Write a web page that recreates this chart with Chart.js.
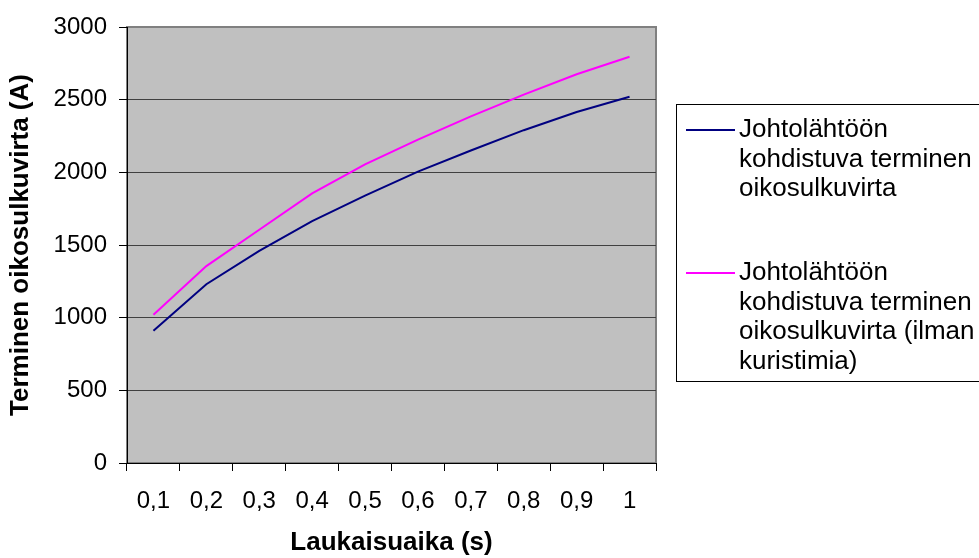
<!DOCTYPE html>
<html>
<head>
<meta charset="utf-8">
<script src="https://cdn.jsdelivr.net/npm/chart.js@4.4.1/dist/chart.umd.min.js"></script>
<style>
  html, body { margin: 0; padding: 0; background: #fff; }
  #wrap { width: 979px; height: 558px; position: relative; }
</style>
</head>
<body>
<div id="wrap"><canvas id="chart"></canvas></div>
<script>
// laukaisuaika (s) categories
const categories = ['0,1', '0,2', '0,3', '0,4', '0,5', '0,6', '0,7', '0,8', '0,9', '1'];
// terminen oikosulkuvirta (A)
const withReactor = [910, 1230, 1460, 1665, 1840, 2005, 2150, 2290, 2415, 2520];
const withoutReactor = [1020, 1355, 1605, 1855, 2055, 2225, 2385, 2535, 2675, 2795];
const yTicks = [0, 500, 1000, 1500, 2000, 2500, 3000];

const legendLines = [
    ['Johtolähtöön', 'kohdistuva terminen', 'oikosulkuvirta'],
    ['Johtolähtöön', 'kohdistuva terminen', 'oikosulkuvirta (ilman', 'kuristimia)']
];

const FONT = "'Liberation Sans', Arial, sans-serif";

// gray plot area with gray frame, like the old Excel charts
const plotArea = {
    id: 'plotArea',
    beforeDraw(chart) {
        const { ctx, chartArea: a } = chart;
        ctx.save();
        ctx.fillStyle = '#c0c0c0';
        ctx.fillRect(a.left, a.top, a.right - a.left, a.bottom - a.top);
        ctx.strokeStyle = '#808080';
        ctx.lineWidth = 2;
        ctx.strokeRect(a.left, a.top, a.right - a.left, a.bottom - a.top);
        ctx.restore();
    }
};

// multi-line legend at the right
const sideLegend = {
    id: 'sideLegend',
    afterDraw(chart) {
        const ctx = chart.ctx;
        ctx.save();
        ctx.strokeStyle = '#000';
        ctx.lineWidth = 1;
        ctx.strokeRect(676.5, 104.5, 400, 277);
        ctx.font = '26px ' + FONT;
        ctx.fillStyle = '#000';
        ctx.textBaseline = 'alphabetic';
        const starts = [137, 280];
        chart.data.datasets.forEach((ds, i) => {
            const y0 = starts[i];
            ctx.strokeStyle = ds.borderColor;
            ctx.lineWidth = 2;
            ctx.beginPath();
            ctx.moveTo(686, y0 - 7);
            ctx.lineTo(735, y0 - 7);
            ctx.stroke();
            legendLines[i].forEach((t, j) => {
                ctx.fillText(t, 739, y0 + j * 29.7);
            });
        });
        ctx.restore();
    }
};

new Chart(document.getElementById('chart'), {
    type: 'line',
    data: {
        labels: categories,
        datasets: [
            {
                label: legendLines[0].join(' '),
                data: withReactor,
                borderColor: '#000080',
                borderWidth: 2,
                pointRadius: 0,
                tension: 0
            },
            {
                label: legendLines[1].join(' '),
                data: withoutReactor,
                borderColor: '#ff00ff',
                borderWidth: 2,
                pointRadius: 0,
                tension: 0
            }
        ]
    },
    options: {
        responsive: true,
        maintainAspectRatio: false,
        animation: false,
        layout: { padding: { top: 27, right: 323, left: 0, bottom: 0 } },
        plugins: {
            legend: { display: false },
            tooltip: { enabled: false }
        },
        scales: {
            x: {
                type: 'category',
                offset: true,
                afterFit: s => { s.height = 95; },
                grid: {
                    offset: true,
                    drawOnChartArea: false,
                    tickLength: 8,
                    tickColor: '#000'
                },
                border: { color: '#000', width: 1 },
                ticks: {
                    color: '#000',
                    padding: 16,
                    maxRotation: 0,
                    font: { family: FONT, size: 24 }
                },
                title: {
                    display: true,
                    text: 'Laukaisuaika (s)',
                    color: '#000',
                    padding: { top: 0, bottom: 0 },
                    font: { family: FONT, size: 26, weight: 'bold' }
                }
            },
            y: {
                min: 0,
                max: 3000,
                afterFit: s => { s.width = 127; },
                afterBuildTicks: s => { s.ticks = yTicks.map(v => ({ value: v })); },
                grid: {
                    color: c => (c.tick && c.tick.value === 3000) ? '#808080' : '#404040',
                    tickLength: 8,
                    tickColor: '#000'
                },
                border: { color: '#000', width: 1 },
                ticks: {
                    color: '#000',
                    padding: 12,
                    font: { family: FONT, size: 24 },
                    callback: v => String(v)
                },
                title: {
                    display: true,
                    text: 'Terminen oikosulkuvirta (A)',
                    color: '#000',
                    padding: { top: 5, bottom: 0 },
                    font: { family: FONT, size: 26, weight: 'bold' }
                }
            }
        }
    },
    plugins: [plotArea, sideLegend]
});
</script>
</body>
</html>
